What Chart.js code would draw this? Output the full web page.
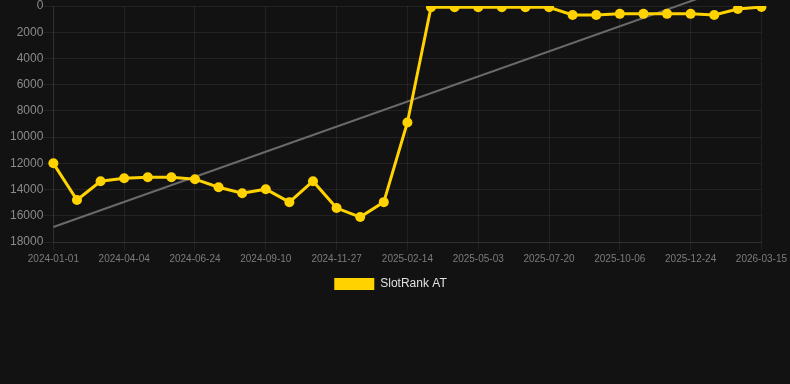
<!DOCTYPE html>
<html>
<head>
<meta charset="utf-8">
<script src="https://cdn.jsdelivr.net/npm/chart.js@4/dist/chart.umd.min.js"></script>
<style>
  html, body { margin: 0; padding: 0; background: #121212; }
  #wrap { position: relative; width: 790px; height: 300px; }
</style>
</head>
<body>
<div id="wrap"><canvas id="rank-chart"></canvas></div>
<script>
// dates (x categories)
const dates = [
  '2024-01-01', '2024-02-01', '2024-03-03', '2024-04-04', '2024-05-01', '2024-05-28',
  '2024-06-24', '2024-07-20', '2024-08-15', '2024-09-10', '2024-10-06', '2024-11-01',
  '2024-11-27', '2024-12-23', '2025-01-19', '2025-02-14', '2025-03-12', '2025-04-07',
  '2025-05-03', '2025-05-29', '2025-06-24', '2025-07-20', '2025-08-15', '2025-09-10',
  '2025-10-06', '2025-11-01', '2025-11-27', '2025-12-24', '2026-01-19', '2026-02-14',
  '2026-03-15'
];

// SlotRank AT values (lower = better, axis reversed)
const rankAT = [
  12000, 14800, 13370, 13140, 13060, 13060,
  13210, 13820, 14280, 13970, 14960, 13360,
  15410, 16100, 14960, 8880, 100, 100,
  100, 100, 100, 100, 680, 680,
  600, 600, 600, 600, 680, 230,
  80
];

// trend line end values
const trendEnds = [16860, -2280];

const yTicks = { min: 0, max: 18000, step: 2000 };

const gridColor = 'rgba(255,255,255,0.07)';

const ctx = document.getElementById('rank-chart').getContext('2d');

new Chart(ctx, {
  type: 'line',
  data: {
    labels: dates,
    datasets: [
      {
        label: 'SlotRank AT',
        data: rankAT,
        borderColor: '#FFD200',
        backgroundColor: '#FFD200',
        borderWidth: 3,
        pointRadius: 5,
        pointHoverRadius: 6,
        pointBackgroundColor: '#FFD200',
        pointBorderWidth: 0,
        tension: 0,
        order: 1,
      },
      {
        label: 'trend',
        data: [
          { x: dates[0], y: trendEnds[0] },
          { x: dates[dates.length - 1], y: trendEnds[1] },
        ],
        borderColor: '#6a6a6a',
        borderWidth: 2,
        pointRadius: 0,
        pointHoverRadius: 0,
        clip: false,
        order: 2,
      },
    ],
  },
  options: {
    responsive: true,
    maintainAspectRatio: false,
    animation: false,
    layout: { padding: { left: 10, right: 19 } },
    scales: {
      x: {
        grid: { color: gridColor },
        border: { color: gridColor },
        ticks: {
          color: '#7c7c7c',
          font: { size: 10, family: 'Liberation Sans, Arial, sans-serif' },
          autoSkip: true,
          maxTicksLimit: 11,
          maxRotation: 0,
          minRotation: 0,
        },
      },
      y: {
        reverse: true,
        min: yTicks.min,
        max: yTicks.max,
        grid: { color: gridColor, tickLength: 10 },
        border: { color: gridColor },
        ticks: {
          stepSize: yTicks.step,
          padding: 0,
          color: '#8a8a8a',
          font: { size: 12, lineHeight: 1, family: 'Liberation Sans, Arial, sans-serif' },
          callback: (v) => String(v),
        },
      },
    },
    plugins: {
      legend: {
        position: 'bottom',
        labels: {
          color: '#e0e0e0',
          boxWidth: 40,
          boxHeight: 12,
          font: { size: 12, family: 'Liberation Sans, Arial, sans-serif' },
          filter: (item) => item.text !== 'trend',
          // flat boxes, no outline
          generateLabels: (chart) =>
            Chart.defaults.plugins.legend.labels.generateLabels(chart).map((it) => ({ ...it, lineWidth: 0 })),
        },
      },
      tooltip: { enabled: false },
    },
  },
});
</script>
</body>
</html>
